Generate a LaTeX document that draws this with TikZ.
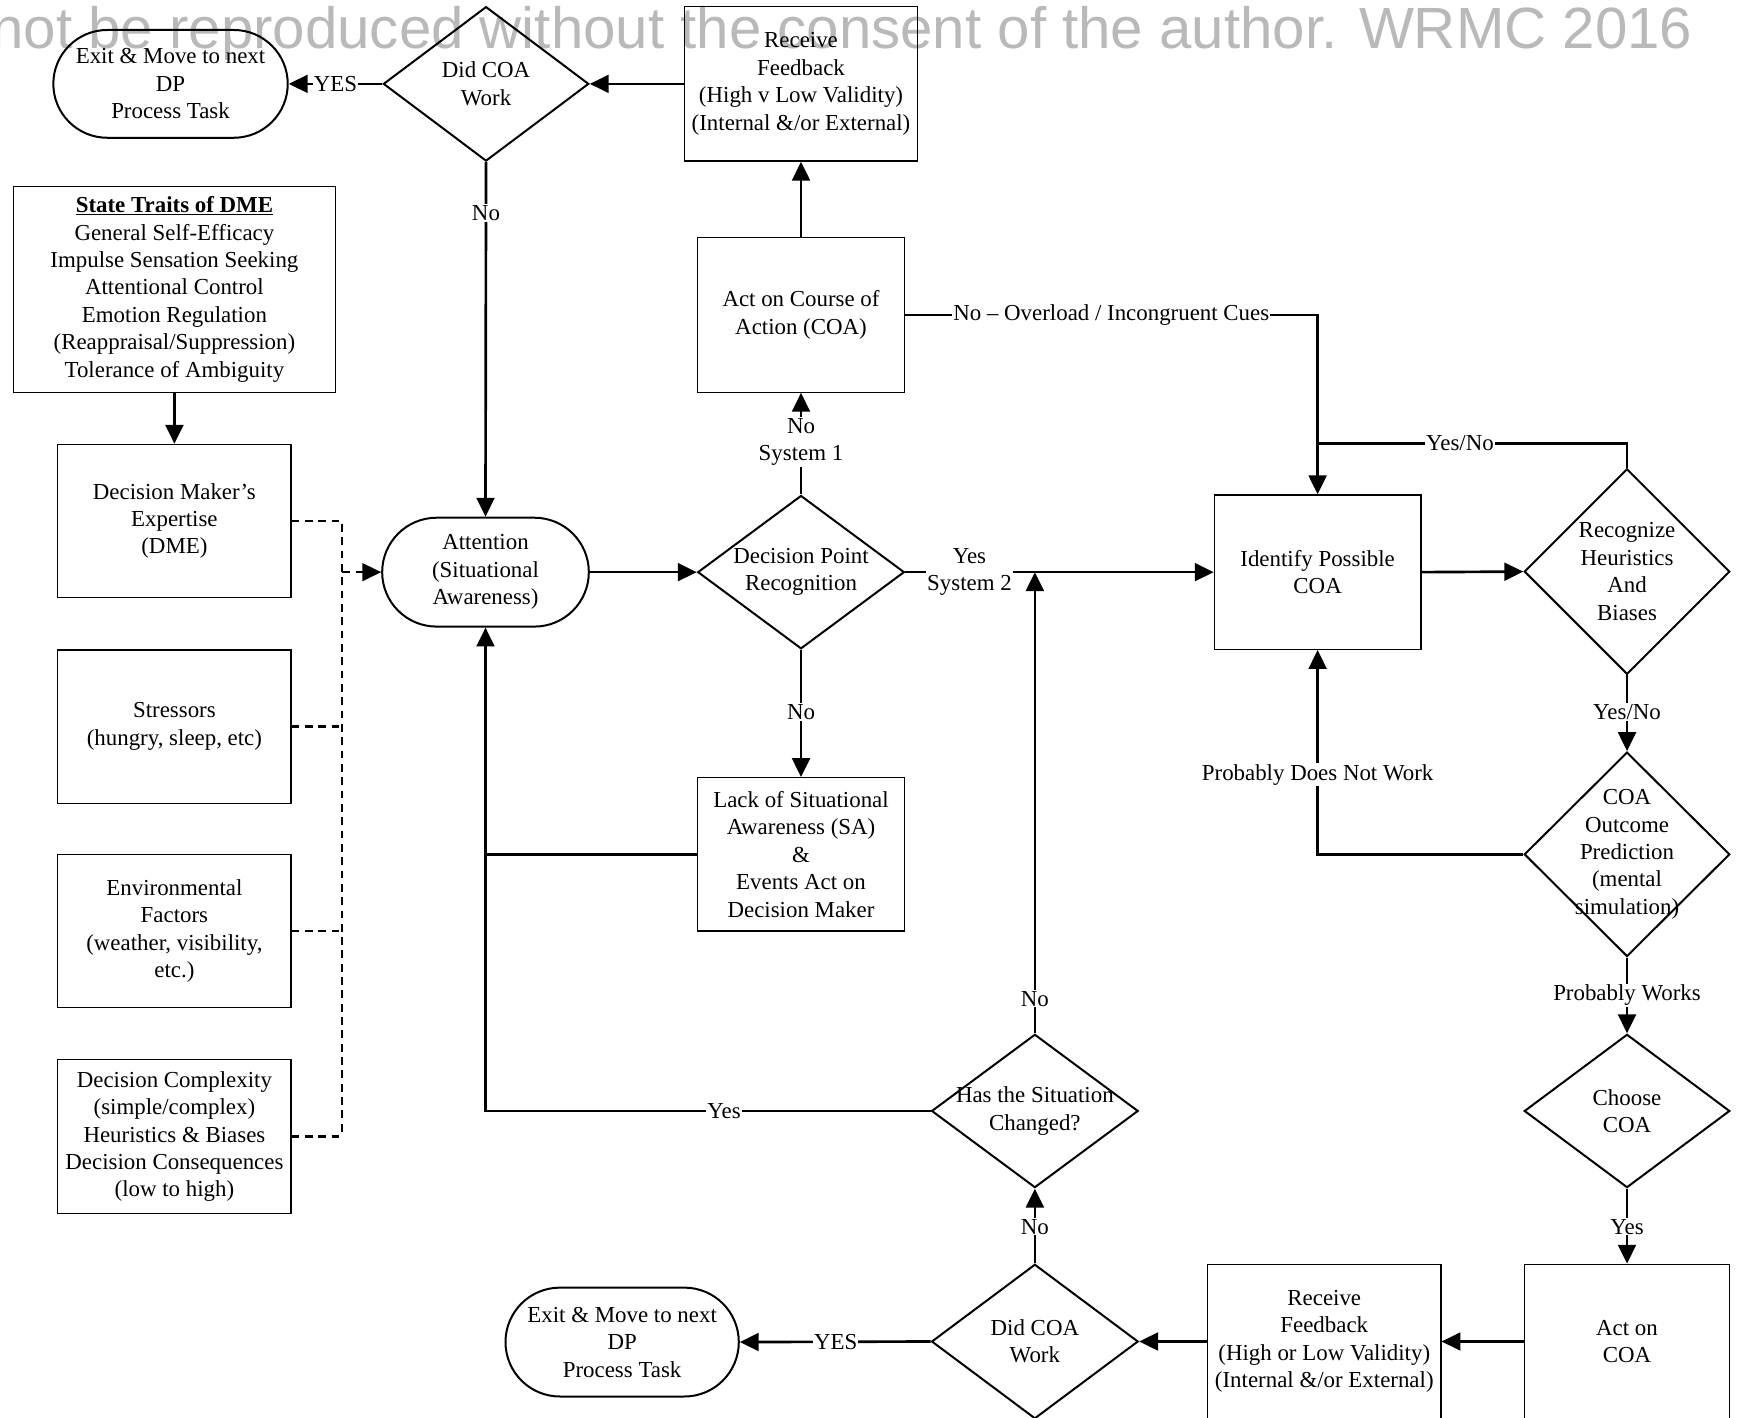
\documentclass[tikz,border=0pt]{standalone}
\usepackage{fontspec}
\setmainfont{Liberation Serif}
\newfontfamily\wmfont{Liberation Sans}
\usetikzlibrary{shapes.geometric,arrows.meta,calc}
\definecolor{wmgray}{RGB}{185,185,185}
\begin{document}
\begin{tikzpicture}[x=1pt,y=-1pt,
  every node/.style={font=\fontsize{20.6}{24.7}\selectfont},
  box/.style={draw, line width=1.1pt, rectangle, align=center, inner sep=0pt},
  term/.style={draw, line width=1.8pt, rectangle, rounded corners=#1, align=center, inner sep=0pt},
  dia/.style={draw, line width=1.8pt, diamond, inner sep=0pt},
  dtxt/.style={align=center, inner sep=0pt},
  conn/.style={line width=2.4pt, -{Triangle[length=17pt,width=16pt]}},
  plain/.style={line width=2.4pt},
  dsh/.style={line width=2pt, dash pattern=on 7pt off 5pt},
  lbl/.style={fill=white, inner sep=1pt, align=center}
]
\useasboundingbox (0,0) rectangle (1568,1276);

% watermark
\node[anchor=base west, inner sep=0pt, text=wmgray,
      font=\wmfont\fontsize{52.4}{52.4}\selectfont] (wm) at (-8,43.5)
      {not be reproduced without the consent of the author. WRMC 2016};

% top row
\node[term=48.5pt, minimum width=211pt, minimum height=97pt] (exitt) at (153.5,75.5)
  {Exit \& Move to next\\DP\\Process Task};
\node[dia, minimum width=185pt, minimum height=139pt,
      label={[dtxt]center:{Did COA\\Work}}] (didt) at (437.5,75.5) {};
\node[box, minimum width=210pt, minimum height=139pt] (rect) at (721,75.5)
  {Receive\\Feedback\\(High v Low Validity)\\(Internal \&/or External)};
\node[box, minimum width=186pt, minimum height=139pt] (act) at (721,283.5)
  {Act on Course of\\Action (COA)};

% left column
\node[box, minimum width=290pt, minimum height=185pt] (traits) at (157,260.5)
  {\textbf{\underline{State Traits of DME}}\\General Self-Efficacy\\Impulse Sensation Seeking\\Attentional Control\\Emotion Regulation\\(Reappraisal/Suppression)\\Tolerance of Ambiguity};
\node[box, minimum width=210pt, minimum height=138pt] (dme) at (157,469)
  {Decision Maker’s\\Expertise\\(DME)};
\node[box, minimum width=210pt, minimum height=138pt] (stress) at (157,654)
  {Stressors\\(hungry, sleep, etc)};
\node[box, minimum width=210pt, minimum height=138pt] (env) at (157,838)
  {Environmental\\Factors\\(weather, visibility,\\etc.)};
\node[box, minimum width=210pt, minimum height=138pt] (dc) at (157,1023)
  {Decision Complexity\\(simple/complex)\\Heuristics \& Biases\\Decision Consequences\\(low to high)};

% middle
\node[term=49pt, minimum width=186pt, minimum height=98pt] (att) at (437,515)
  {Attention\\(Situational\\Awareness)};
\node[dia, minimum width=186pt, minimum height=138pt,
      label={[dtxt]center:{Decision Point\\Recognition}}] (dpr) at (721,515) {};
\node[box, minimum width=186pt, minimum height=138pt] (lack) at (721,769)
  {Lack of Situational\\Awareness (SA)\\\&\\Events Act on\\Decision Maker};

% right
\node[box, minimum width=186pt, minimum height=139pt] (idf) at (1186,515)
  {Identify Possible\\COA};
\node[dia, minimum width=185pt, minimum height=185pt,
      label={[dtxt]center:{Recognize\\Heuristics\\And\\Biases}}] (rhb) at (1464.5,514.5) {};
\node[dia, minimum width=185pt, minimum height=184pt,
      label={[dtxt]center:{COA\\Outcome\\Prediction\\(mental\\simulation)}}] (coa) at (1464.5,769) {};
\node[dia, minimum width=185pt, minimum height=138pt,
      label={[dtxt]center:{Choose\\COA}}] (choose) at (1464.5,1000) {};
\node[box, minimum width=185pt, minimum height=139pt] (actb) at (1464.5,1207.5)
  {Act on\\COA};
\node[box, minimum width=210pt, minimum height=139pt] (recb) at (1192,1207.5)
  {Receive\\Feedback\\(High or Low Validity)\\(Internal \&/or External)};
\node[dia, minimum width=186pt, minimum height=139pt,
      label={[dtxt]center:{Did COA\\Work}}] (didb) at (931.5,1207.5) {};
\node[dia, minimum width=186pt, minimum height=138pt,
      label={[dtxt]center:{Has the Situation\\Changed?}}] (has) at (931.5,1000) {};
\node[term=49pt, minimum width=210pt, minimum height=98pt] (exitb) at (560,1208)
  {Exit \& Move to next\\DP\\Process Task};

% coordinates
\coordinate (dv) at (308,515);
\coordinate (j1) at (1186,399);

% connectors top
\draw[conn] (didt.west) -- (didt.west -| exitt.east) node[lbl, pos=0.5] {YES};
\draw[conn] (rect.west) -- (rect.west -| didt.east);
\draw[conn] (act.north) -- (rect.south);
\draw[conn] (didt.south) -- (att.north) node[lbl, pos=0.143] {No};
\draw[conn] (traits.south) -- (dme.north);

% dashed influences
\draw[dsh] (dme.east) -- (dme.east -| dv) -- (dc.east -| dv);
\draw[dsh] (stress.east) -- (stress.east -| dv);
\draw[dsh] (env.east) -- (env.east -| dv);
\draw[dsh] (dc.east) -- (dc.east -| dv);
\draw[dsh, -{Triangle[length=17pt,width=16pt]}] (dv) -- (att.west);

% middle flow
\draw[conn] (att.east) -- (dpr.west);
\draw[conn] (dpr.north) -- (act.south) node[lbl, pos=0.516] {No\\System 1};
\draw[conn] (dpr.south) -- (lack.north) node[lbl, pos=0.49] {No};
\draw[conn] (dpr.east) -- (idf.west) node[lbl, pos=0.208] {Yes\\System 2};
\draw[conn] (act.east) -| (idf.north) node[lbl, pos=0.25] {No – Overload / Incongruent Cues};
\draw[plain] (rhb.north) |- (j1) node[lbl, pos=0.77] {Yes/No};
\draw[conn] (idf.east) -- (rhb.west);
\draw[conn] (rhb.south) -- (coa.north) node[lbl, pos=0.486] {Yes/No};
\draw[conn] (coa.west) -| (idf.south) node[lbl, pos=0.695] {Probably Does Not Work};
\draw[conn] (coa.south) -- (choose.north) node[lbl, pos=0.5] {Probably Works};
\draw[conn] (choose.south) -- (actb.north) node[lbl, pos=0.507] {Yes};

% bottom flow
\draw[conn] (actb.west) -- (recb.east);
\draw[conn] (recb.west) -- (didb.east);
\draw[conn] (didb.west) -- (exitb.east) node[lbl, pos=0.497] {YES};
\draw[conn] (didb.north) -- (has.south) node[lbl, pos=0.49] {No};
\draw[conn] (has.north) -- (has.north |- dpr.east) node[lbl, pos=0.075] {No};
\draw[conn] (has.west) -| (att.south) node[lbl, pos=0.232] {Yes};
\draw[plain] (lack.west) -- (lack.west -| att.south);
\end{tikzpicture}
\end{document}
